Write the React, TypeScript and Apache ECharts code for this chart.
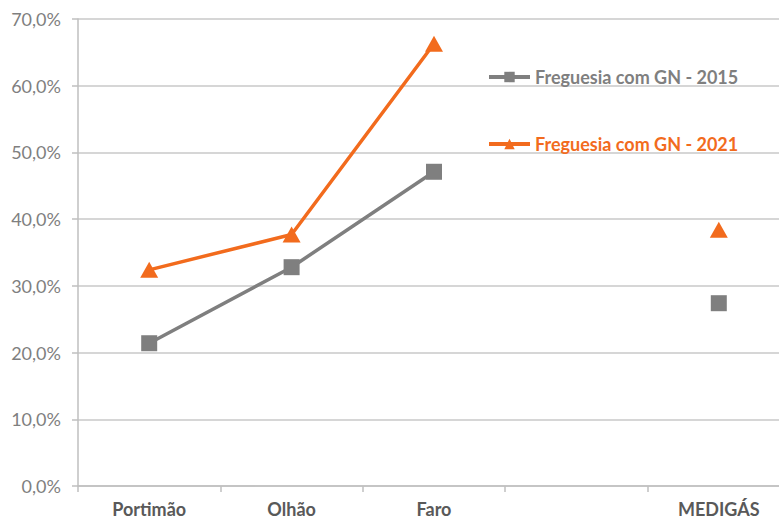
import React, { useEffect, useRef } from "react";
import * as echarts from "echarts";

const categories = ["Portimão", "Olhão", "Faro", "", "MEDIGÁS"];
const series2015 = [21.4, 32.8, 47.1, null, 27.4];
const series2021 = [32.4, 37.7, 66.3, null, 38.4];
const seriesNames = ["Freguesia com GN - 2015", "Freguesia com GN - 2021"];

const GRAY = "#7f7f7f";
const ORANGE = "#f26b1d";
const FONT = "Lato";

export default function App() {
  const ref = useRef<HTMLDivElement>(null);
  useEffect(() => {
    document.body.style.margin = "0";
    const chart = echarts.init(ref.current!, null, { renderer: "svg" });
    chart.setOption({
      animation: false,
      backgroundColor: "#ffffff",
      grid: { left: 78, top: 19, width: 712, height: 467, containLabel: false },
      legend: {
        orient: "vertical",
        left: 487,
        top: 68,
        padding: 0,
        itemWidth: 41,
        itemHeight: 13,
        itemGap: 49,
        lineStyle: { width: 4 },
        textStyle: { fontFamily: FONT, fontWeight: "bold", fontSize: 18 },
        data: [
          { name: seriesNames[0], textStyle: { color: GRAY } },
          { name: seriesNames[1], textStyle: { color: ORANGE } },
        ],
      },
      xAxis: {
        type: "category",
        data: categories,
        boundaryGap: true,
        axisLine: { lineStyle: { color: "#bfbfbf", width: 1.5 } },
        axisTick: { show: true, length: 6, lineStyle: { color: "#bfbfbf", width: 1.5 } },
        axisLabel: {
          color: "#595959",
          fontFamily: FONT,
          fontWeight: "bold",
          fontSize: 18,
          lineHeight: 18,
          margin: 14,
          interval: 0,
        },
      },
      yAxis: {
        type: "value",
        min: 0,
        max: 70,
        interval: 10,
        axisLine: { show: true, lineStyle: { color: "#bfbfbf", width: 1.5 } },
        axisTick: { show: true, length: 6, lineStyle: { color: "#bfbfbf", width: 1.5 } },
        splitLine: { lineStyle: { color: "#c8c8c8", width: 1.5 } },
        axisLabel: {
          color: "#7f7f7f",
          fontFamily: FONT,
          fontSize: 18,
          margin: 17,
          formatter: (v: number) => v.toFixed(1).replace(".", ",") + "%",
        },
      },
      series: [
        {
          name: seriesNames[0],
          type: "line",
          data: series2015,
          connectNulls: false,
          symbol: "rect",
          symbolSize: 16,
          showAllSymbol: true,
          lineStyle: { color: GRAY, width: 3.5 },
          itemStyle: { color: GRAY },
        },
        {
          name: seriesNames[1],
          type: "line",
          data: series2021,
          connectNulls: false,
          symbol: "triangle",
          symbolSize: [18, 16],
          showAllSymbol: true,
          lineStyle: { color: ORANGE, width: 3.5 },
          itemStyle: { color: ORANGE },
        },
      ],
    });
    return () => chart.dispose();
  }, []);
  return (
    <div style={{ width: 779, height: 519, overflow: "hidden", position: "relative" }}>
      <div ref={ref} style={{ width: 800, height: 519 }} />
    </div>
  );
}
